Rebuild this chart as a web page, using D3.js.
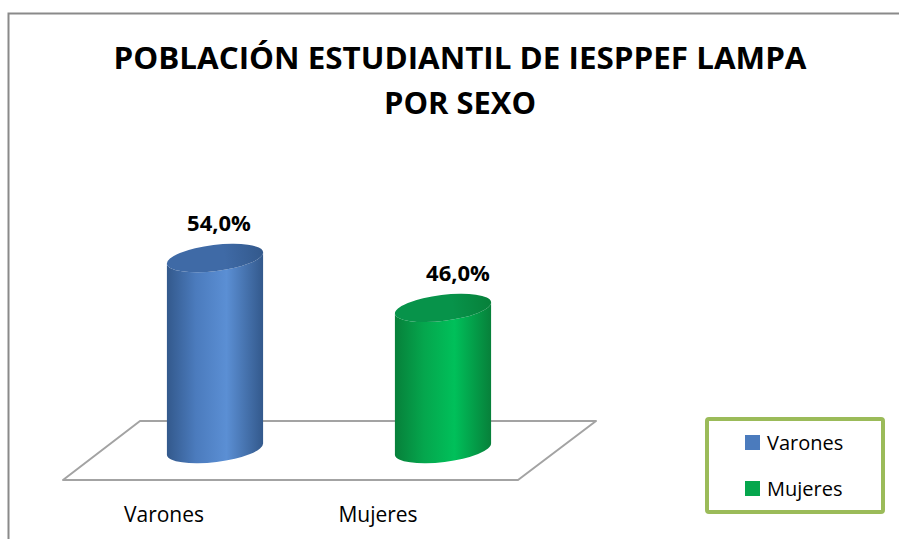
<!DOCTYPE html>
<html>
<head>
<meta charset="utf-8">
<script src="https://cdn.jsdelivr.net/npm/d3@7"></script>
<style>
  body { margin: 0; background: #fff; }
  svg { display: block; }
</style>
</head>
<body>
<svg id="chart"></svg>
<script>
// data
const categories = ["Varones", "Mujeres"];
const values = [54.0, 46.0];
const titleLines = ["POBLACIÓN ESTUDIANTIL DE IESPPEF LAMPA", "POR SEXO"];

const width = 899, height = 539;
const font = "'Open Sans', 'DejaVu Sans', sans-serif";

const svg = d3.select("#chart").attr("width", width).attr("height", height);

const palette = {
  Varones: { dark: "#33598c", mid: "#4b7bbd", light: "#5b8fd4", top: "#3f6aa6" },
  Mujeres: { dark: "#07803a", mid: "#05a64d", light: "#00c05a", top: "#07934a" }
};

//gradients
const defs = svg.append("defs");
categories.forEach((c, i) => {
  const p = palette[c];
  const g = defs.append("linearGradient").attr("id", "body" + i)
    .attr("x1", "0%").attr("x2", "100%").attr("y1", "0%").attr("y2", "0%");
  g.append("stop").attr("offset", "0%").attr("stop-color", p.dark);
  g.append("stop").attr("offset", "30%").attr("stop-color", p.mid);
  g.append("stop").attr("offset", "62%").attr("stop-color", p.light);
  g.append("stop").attr("offset", "100%").attr("stop-color", p.dark);
  const t = defs.append("linearGradient").attr("id", "top" + i)
    .attr("x1", "0%").attr("x2", "100%").attr("y1", "0%").attr("y2", "0%");
  t.append("stop").attr("offset", "0%").attr("stop-color", p.top);
  t.append("stop").attr("offset", "60%").attr("stop-color", p.top);
  t.append("stop").attr("offset", "100%").attr("stop-color", p.dark);
});

// outer chart frame (runs past the window edge like the original)
svg.append("rect")
  .attr("x", 8.5).attr("y", 13.5)
  .attr("width", 1000).attr("height", 600)
  .attr("fill", "#fff").attr("stroke", "#8a8a8a").attr("stroke-width", 2);

// title
svg.append("g").selectAll("text")
  .data(titleLines)
  .join("text")
  .attr("x", 460)
  .attr("y", (d, i) => 69 + i * 45)
  .attr("text-anchor", "middle")
  .attr("font-family", font)
  .attr("font-weight", "bold")
  .attr("font-size", 30)
  .attr("fill", "#000")
  .attr("textLength", (d, i) => i === 0 ? 693 : 152)
  .attr("lengthAdjust", "spacingAndGlyphs")
  .text(d => d);

// scales: back row for the cylinders, front edge for the category labels
const xBack = d3.scaleBand().domain(categories).range([101, 557])
  .paddingInner(0.575).paddingOuter(0.2875);
const xFront = d3.scaleBand().domain(categories).range([55, 483]);
const y = d3.scaleLinear().domain([23.4, 54]).range([449, 258]);

// floor
const floorTop = 421, floorBottom = 480;
svg.append("path")
  .attr("d", d3.line()([[140, floorTop], [596, floorTop], [518, floorBottom], [63, floorBottom]]) + "Z")
  .attr("fill", "#fff")
  .attr("stroke", "#a3a3a3")
  .attr("stroke-width", 2)
  .attr("stroke-linejoin", "round");

// cylinders
const rx = xBack.bandwidth() / 2, ry = 13, tilt = -7;
const phi = tilt * Math.PI / 180;
const base = y.range()[0];

const bars = svg.append("g").selectAll("g")
  .data(categories.map((c, i) => ({ c, v: values[i], i })))
  .join("g")
  .attr("transform", d => `translate(${xBack(d.c) + rx},0)`);

bars.append("path")
  .attr("fill", d => `url(#body${d.i})`)
  .attr("d", d => {
    const yt = y(d.v);
    const dx = rx * Math.cos(phi), dy = rx * Math.sin(phi);
    return `M${-dx},${yt - dy} L${-dx},${base - dy}` +
      ` A${rx},${ry} ${tilt} 0 0 ${dx},${base + dy}` +
      ` L${dx},${yt + dy}` +
      ` A${rx},${ry} ${tilt} 0 1 ${-dx},${yt - dy} Z`;
  });

bars.append("ellipse")
  .attr("rx", rx).attr("ry", ry)
  .attr("transform", d => `translate(0,${y(d.v)}) rotate(${tilt})`)
  .attr("fill", d => `url(#top${d.i})`);

// value labels
bars.append("text")
  .attr("x", d => 4 + d.i * 11)
  .attr("y", d => y(d.v) - ry - 14)
  .attr("text-anchor", "middle")
  .attr("font-family", font)
  .attr("font-weight", "bold")
  .attr("font-size", 22)
  .attr("fill", "#000")
  .text(d => d3.format(".1f")(d.v).replace(".", ",") + "%");

// category labels
svg.append("g").selectAll("text")
  .data(categories)
  .join("text")
  .attr("x", d => xFront(d) + xFront.bandwidth() / 2 + 2)
  .attr("y", 522)
  .attr("text-anchor", "middle")
  .attr("font-family", font)
  .attr("font-size", 21)
  .attr("fill", "#000")
  .text(d => d);

// legend
const legend = svg.append("g").attr("transform", "translate(707,419)");
legend.append("rect")
  .attr("width", 176).attr("height", 93)
  .attr("fill", "#fff")
  .attr("stroke", "#9bbb59").attr("stroke-width", 4)
  .attr("rx", 2);
const li = legend.selectAll("g.item")
  .data(categories)
  .join("g")
  .attr("class", "item")
  .attr("transform", (d, i) => `translate(38,${16 + i * 46})`);
li.append("rect")
  .attr("width", 15).attr("height", 15)
  .attr("fill", d => palette[d].mid);
li.append("text")
  .attr("x", 22).attr("y", 15)
  .attr("font-family", font)
  .attr("font-size", 20)
  .attr("fill", "#000")
  .text(d => d);
</script>
</body>
</html>
